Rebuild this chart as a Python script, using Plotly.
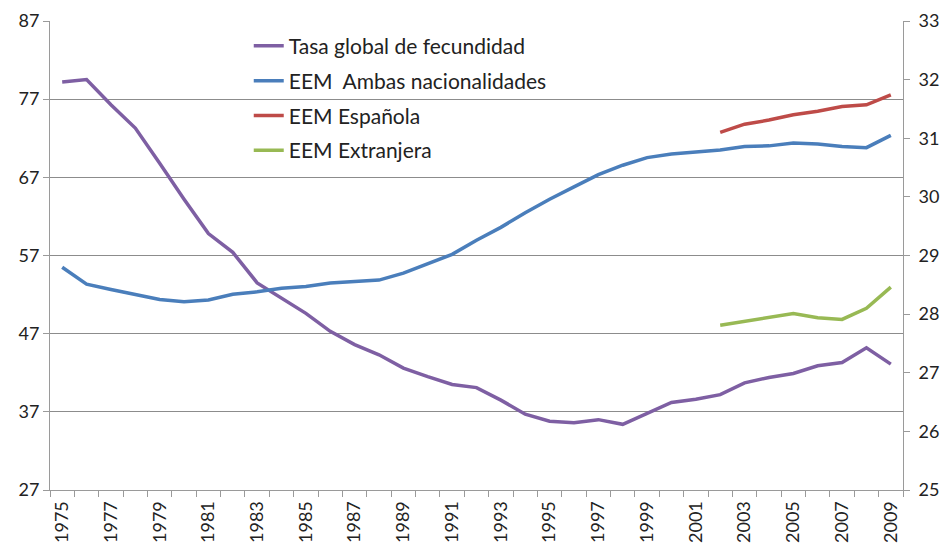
import plotly.graph_objects as go

years = list(range(1975, 2010))

tasa_global = [79.2, 79.5, 76.3, 73.3, 68.8, 64.2, 59.8, 57.4, 53.5, 51.5,
               49.6, 47.3, 45.6, 44.3, 42.6, 41.5, 40.5, 40.1, 38.5, 36.7,
               35.8, 35.6, 36.0, 35.4, 36.8, 38.2, 38.6, 39.2, 40.7, 41.4,
               41.9, 42.9, 43.3, 45.2, 43.1]

eem_ambas = [28.80, 28.51, 28.42, 28.34, 28.25, 28.21, 28.24, 28.34, 28.38, 28.44,
             28.47, 28.53, 28.56, 28.58, 28.70, 28.86, 29.02, 29.26, 29.48, 29.73,
             29.96, 30.17, 30.38, 30.54, 30.67, 30.73, 30.76, 30.80, 30.86, 30.87,
             30.92, 30.90, 30.86, 30.84, 31.05]

eem_espanola = [None] * 27 + [31.10, 31.24, 31.31, 31.40, 31.46, 31.54, 31.57, 31.74]
eem_extranjera = [None] * 27 + [27.81, 27.88, 27.94, 28.01, 27.94, 27.91, 28.10, 28.46]

left_ticks = [27, 37, 47, 57, 67, 77, 87]
right_ticks = [25, 26, 27, 28, 29, 30, 31, 32, 33]
year_labels = [str(y) for y in range(1975, 2010, 2)]

FONT = "Lato"
fig = go.Figure()
fig.add_trace(go.Scatter(x=years, y=tasa_global, mode="lines", name="Tasa global de fecundidad",
                         line=dict(color="#7e5fa3", width=3.5), legendgroup="a"))
fig.add_trace(go.Scatter(x=years, y=eem_ambas, mode="lines", name="EEM  Ambas nacionalidades",
                         line=dict(color="#4a7ebb", width=3.5), yaxis="y2", legendgroup="b"))
fig.add_trace(go.Scatter(x=years, y=eem_espanola, mode="lines", name="EEM Española",
                         line=dict(color="#be4b48", width=3.5), yaxis="y2", legendgroup="c"))
fig.add_trace(go.Scatter(x=years, y=eem_extranjera, mode="lines", name="EEM Extranjera",
                         line=dict(color="#98b954", width=3.5), yaxis="y2", legendgroup="d"))

# the page body has an 8px default margin, so the figure is sized to end at the window edge
fig.update_layout(
    width=941, height=539,
    margin=dict(l=42, r=46, t=13, b=57, autoexpand=False),
    paper_bgcolor="white", plot_bgcolor="white",
    font=dict(family=FONT, size=18, color="#222222"),
    showlegend=True,
    legend=dict(x=0.233, y=0.99, xanchor="left", yanchor="top", bgcolor="rgba(0,0,0,0)",
                traceorder="grouped", tracegroupgap=4.5, font=dict(size=21, family=FONT)),
    xaxis=dict(range=[1974.5, 2009.5], tickmode="array", automargin=False,
               tickvals=list(range(1975, 2010, 2)), ticktext=year_labels,
               tickangle=-90, ticks="", showgrid=False, zeroline=False,
               showline=True, linecolor="#9a9a9a", linewidth=1,
               tickfont=dict(size=18), ticklabelstandoff=3,
               minor=dict(tick0=1974.5, dtick=1, ticks="outside", ticklen=6,
                          tickcolor="#9a9a9a", showgrid=False)),
    yaxis=dict(range=[27, 87], tickmode="array", tickvals=left_ticks, automargin=False,
               showgrid=True, gridcolor="#8c8c8c", gridwidth=1, zeroline=False,
               showline=True, linecolor="#9a9a9a", ticks="outside", ticklen=6,
               tickcolor="#9a9a9a", tickfont=dict(size=18)),
    yaxis2=dict(range=[25, 33], tickmode="array", tickvals=right_ticks, automargin=False,
                overlaying="y", side="right", showgrid=False, zeroline=False,
                showline=True, linecolor="#9a9a9a", ticks="outside", ticklen=6,
                tickcolor="#9a9a9a", tickfont=dict(size=18), ticklabelstandoff=5),
)

fig.write_html("out.html")
